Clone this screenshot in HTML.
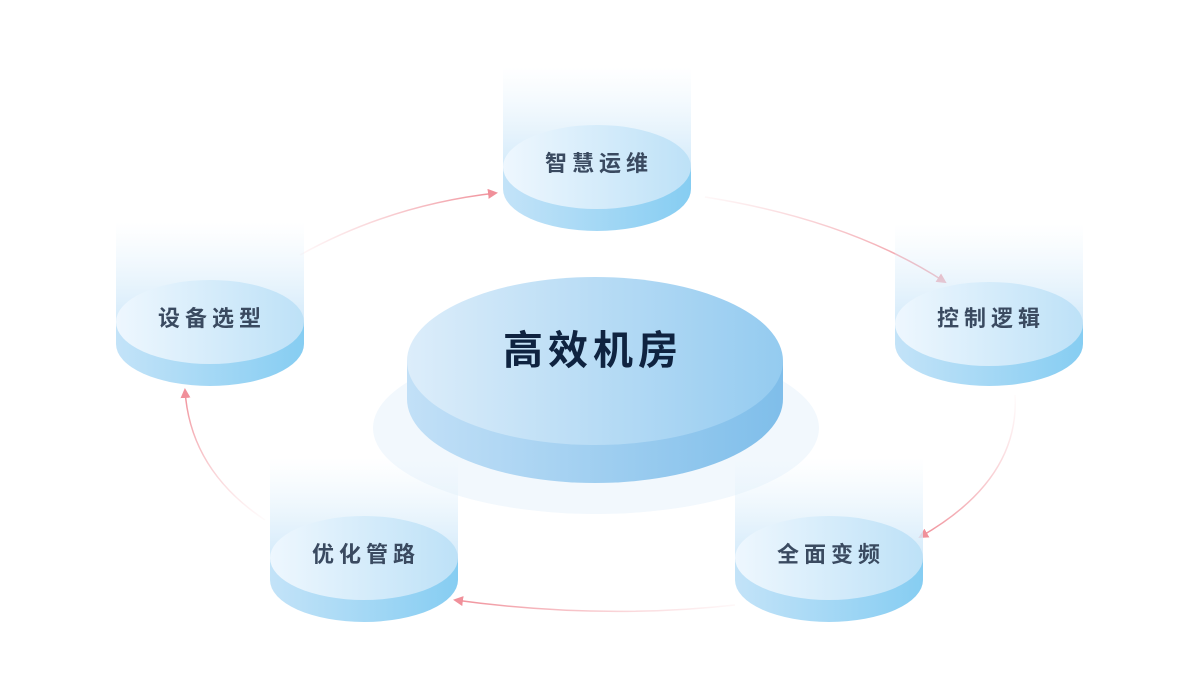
<!DOCTYPE html>
<html><head><meta charset="utf-8"><style>
html,body{margin:0;padding:0;background:#fff;}
svg{display:block}
text{font-family:"Liberation Sans","Noto Sans CJK SC",sans-serif;}
</style></head><body>
<svg width="1200" height="680" viewBox="0 0 1200 680" xmlns="http://www.w3.org/2000/svg">
<defs>
<linearGradient id="col" x1="0" y1="0" x2="0" y2="1">
<stop offset="0" stop-color="#e4f2fc" stop-opacity="0"/>
<stop offset="1" stop-color="#d3eafa" stop-opacity="1"/>
</linearGradient>
<linearGradient id="top" x1="0" y1="0" x2="1" y2="0">
<stop offset="0" stop-color="#eef7fe"/>
<stop offset="1" stop-color="#bde1f7"/>
</linearGradient>
<linearGradient id="side" x1="0" y1="0" x2="1" y2="0">
<stop offset="0" stop-color="#c3e3f8"/>
<stop offset="1" stop-color="#86cdf2"/>
</linearGradient>
<linearGradient id="ctop" x1="0" y1="0" x2="1" y2="0">
<stop offset="0" stop-color="#dcedfa"/>
<stop offset="1" stop-color="#94cbf0"/>
</linearGradient>
<linearGradient id="cside" x1="0" y1="0" x2="1" y2="0">
<stop offset="0" stop-color="#c2e0f7"/>
<stop offset="1" stop-color="#7fbeea"/>
</linearGradient>
<linearGradient id="g1" gradientUnits="userSpaceOnUse" x1="300" y1="255" x2="496" y2="193">
<stop offset="0" stop-color="#f5b2b8" stop-opacity="0.1"/><stop offset="1" stop-color="#f0909a"/></linearGradient>
<linearGradient id="g2" gradientUnits="userSpaceOnUse" x1="705" y1="197" x2="945" y2="282">
<stop offset="0" stop-color="#f5b2b8" stop-opacity="0.1"/><stop offset="1" stop-color="#f0909a"/></linearGradient>
<linearGradient id="g3" gradientUnits="userSpaceOnUse" x1="1015" y1="395" x2="920" y2="537">
<stop offset="0" stop-color="#f5b2b8" stop-opacity="0.05"/><stop offset="1" stop-color="#f0909a"/></linearGradient>
<linearGradient id="g4" gradientUnits="userSpaceOnUse" x1="735" y1="605" x2="455" y2="600">
<stop offset="0" stop-color="#f5b2b8" stop-opacity="0.1"/><stop offset="1" stop-color="#f0909a"/></linearGradient>
<linearGradient id="g5" gradientUnits="userSpaceOnUse" x1="265" y1="520" x2="185" y2="390">
<stop offset="0" stop-color="#f5b2b8" stop-opacity="0.05"/><stop offset="1" stop-color="#f0909a"/></linearGradient>
<marker id="ah" markerWidth="10" markerHeight="10" refX="8" refY="5" orient="auto" markerUnits="userSpaceOnUse">
<path d="M0,0 L10,5 L0,10 z" fill="#f0909a"/>
</marker>
</defs>

<ellipse cx="596" cy="428" rx="223" ry="86" fill="#f2f8fd"/>

<g fill="none" stroke-width="1.5">
<path d="M300,255 Q390,205 496,193" stroke="url(#g1)" marker-end="url(#ah)"/>
<path d="M705,197 Q850,220 945,282" stroke="url(#g2)" marker-end="url(#ah)"/>
<path d="M1015,395 Q1020,480 920,537" stroke="url(#g3)" marker-end="url(#ah)"/>
<path d="M735,605 Q600,620 455,600" stroke="url(#g4)" marker-end="url(#ah)"/>
<path d="M265,520 Q190,470 185,390" stroke="url(#g5)" marker-end="url(#ah)"/>
</g>

<path d="M407,361 L407,399 A188,84 0 0 0 783,399 L783,361 Z" fill="url(#cside)"/>
<ellipse cx="595" cy="361" rx="188" ry="84" fill="url(#ctop)"/>
<text x="593" y="364" font-size="40" font-weight="bold" fill="#0f2340" text-anchor="middle" letter-spacing="5">高效机房</text>

<g transform="translate(597,167)">
<rect x="-94" y="-100" width="188" height="100" fill="url(#col)"/>
<path d="M-94,0 L-94,22 A94,42 0 0 0 94,22 L94,0 Z" fill="url(#side)"/>
<ellipse cx="0" cy="0" rx="94" ry="42" fill="url(#top)"/>
<text x="2" y="4" font-size="22" font-weight="bold" fill="#3a4a60" text-anchor="middle" letter-spacing="5">智慧运维</text>
</g>
<g transform="translate(210,322)">
<rect x="-94" y="-100" width="188" height="100" fill="url(#col)"/>
<path d="M-94,0 L-94,22 A94,42 0 0 0 94,22 L94,0 Z" fill="url(#side)"/>
<ellipse cx="0" cy="0" rx="94" ry="42" fill="url(#top)"/>
<text x="2" y="4" font-size="22" font-weight="bold" fill="#3a4a60" text-anchor="middle" letter-spacing="5">设备选型</text>
</g>
<g transform="translate(989,324)">
<rect x="-94" y="-100" width="188" height="100" fill="url(#col)"/>
<path d="M-94,0 L-94,20 A94,42 0 0 0 94,20 L94,0 Z" fill="url(#side)"/>
<ellipse cx="0" cy="0" rx="94" ry="42" fill="url(#top)"/>
<text x="2" y="2" font-size="22" font-weight="bold" fill="#3a4a60" text-anchor="middle" letter-spacing="5">控制逻辑</text>
</g>
<g transform="translate(829,558)">
<rect x="-94" y="-100" width="188" height="100" fill="url(#col)"/>
<path d="M-94,0 L-94,22 A94,42 0 0 0 94,22 L94,0 Z" fill="url(#side)"/>
<ellipse cx="0" cy="0" rx="94" ry="42" fill="url(#top)"/>
<text x="2" y="4" font-size="22" font-weight="bold" fill="#3a4a60" text-anchor="middle" letter-spacing="5">全面变频</text>
</g>
<g transform="translate(364,558)">
<rect x="-94" y="-100" width="188" height="100" fill="url(#col)"/>
<path d="M-94,0 L-94,22 A94,42 0 0 0 94,22 L94,0 Z" fill="url(#side)"/>
<ellipse cx="0" cy="0" rx="94" ry="42" fill="url(#top)"/>
<text x="2" y="4" font-size="22" font-weight="bold" fill="#3a4a60" text-anchor="middle" letter-spacing="5">优化管路</text>
</g>
</svg>
</body></html>
